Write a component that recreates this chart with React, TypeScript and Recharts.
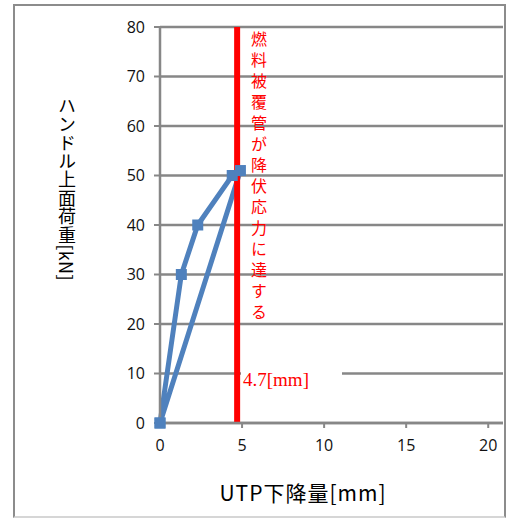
import React from 'react'
import { LineChart, Line, XAxis, YAxis, CartesianGrid } from 'recharts'

// UTP displacement [mm] vs. handle load [kN]
const dispMm = [0, 1.3, 2.3, 4.4, 4.9, 0]
const loadKn = [0, 30, 40, 50, 51, 0]
const yieldDisp = 4.7
const yieldLoads = [0, 80]
const xTicks = [0, 5, 10, 15, 20]
const yTicks = [0, 10, 20, 30, 40, 50, 60, 70, 80]

const BLUE = '#4f81bd'
const GRID = '#878787'
const JP = '"Noto Sans CJK JP", "Noto Sans", sans-serif'

const curve = dispMm.map((x, i) => ({ x, y: loadKn[i] }))
const yieldLine = yieldLoads.map(y => ({ x: yieldDisp, y }))

// eslint-disable-next-line @typescript-eslint/no-explicit-any
function SquareDot(props: any) {
  const { cx, cy, index } = props
  if (cx == null || cy == null) return null
  return <rect key={`d${index}`} x={cx - 5.5} y={cy - 5.5} width={11} height={11} fill={BLUE} />
}

export default function App() {
  const tick = { fontSize: 16, fill: '#111', fontFamily: '"Open Sans", sans-serif' }
  return (
    <div style={{ position: 'absolute', left: 0, top: 0, width: 506, height: 518, background: '#fff', overflow: 'hidden' }}>
      <div
        style={{
          position: 'absolute', left: 13, top: 4, width: 493, height: 514, boxSizing: 'border-box',
          borderLeft: '2px solid #8c8c8c', borderTop: '2px solid #8c8c8c',
          borderRight: '2px solid #8c8c8c', borderBottom: '2px solid #d6d6d6',
        }}
      />
      <div style={{ position: 'absolute', left: 0, top: 0 }}>
        <LineChart width={506} height={518} margin={{ top: 27, right: 3, left: 0, bottom: 65 }}>
          <CartesianGrid vertical={false} stroke={GRID} strokeWidth={2.5} />
          <XAxis
            type="number"
            dataKey="x"
            domain={[0, 20.9]}
            ticks={xTicks}
            height={30}
            tick={tick}
            tickSize={5}
            tickMargin={12}
            axisLine={{ stroke: GRID, strokeWidth: 2.5 }}
            tickLine={{ stroke: GRID, strokeWidth: 2 }}
          />
          <YAxis
            type="number"
            dataKey="y"
            domain={[0, 80]}
            ticks={yTicks}
            width={160}
            tick={tick}
            tickSize={6}
            tickMargin={9}
            axisLine={{ stroke: GRID, strokeWidth: 2.5 }}
            tickLine={{ stroke: GRID, strokeWidth: 2 }}
          />
          <Line
            data={curve}
            dataKey="y"
            type="linear"
            stroke={BLUE}
            strokeWidth={5}
            dot={SquareDot}
            activeDot={false}
            isAnimationActive={false}
          />
          <Line
            data={yieldLine}
            dataKey="y"
            type="linear"
            stroke="#ff0000"
            strokeWidth={6}
            dot={false}
            activeDot={false}
            isAnimationActive={false}
          />
        </LineChart>
      </div>
      {/* yield annotation */}
      <div
        style={{
          position: 'absolute', left: 251, top: 31, writingMode: 'vertical-rl',
          fontFamily: JP, fontSize: 16, lineHeight: 1, letterSpacing: 5, color: '#ff0000',
        }}
      >
        燃料被覆管が降伏応力に達する
      </div>
      <div
        style={{
          position: 'absolute', left: 241, top: 365, width: 101, height: 30, background: '#fff',
          fontFamily: '"Liberation Serif", serif', fontSize: 19, lineHeight: '30px', color: '#ff0000',
          paddingLeft: 2, boxSizing: 'border-box', whiteSpace: 'nowrap',
        }}
      >
        4.7[mm]
      </div>
      {/* axis titles */}
      <div
        style={{
          position: 'absolute', left: 58, top: 97, writingMode: 'vertical-rl',
          fontFamily: JP, fontSize: 18, lineHeight: 1, letterSpacing: 0.4, color: '#000',
        }}
      >
        ハンドル上面荷重[kN]
      </div>
      <div
        style={{
          position: 'absolute', left: 140, top: 482, width: 326, height: 26,
          textAlign: 'center', fontFamily: JP, fontSize: 21, lineHeight: 1, color: '#000',
          letterSpacing: 1, whiteSpace: 'nowrap',
        }}
      >
        UTP下降量[mm]
      </div>
    </div>
  )
}
